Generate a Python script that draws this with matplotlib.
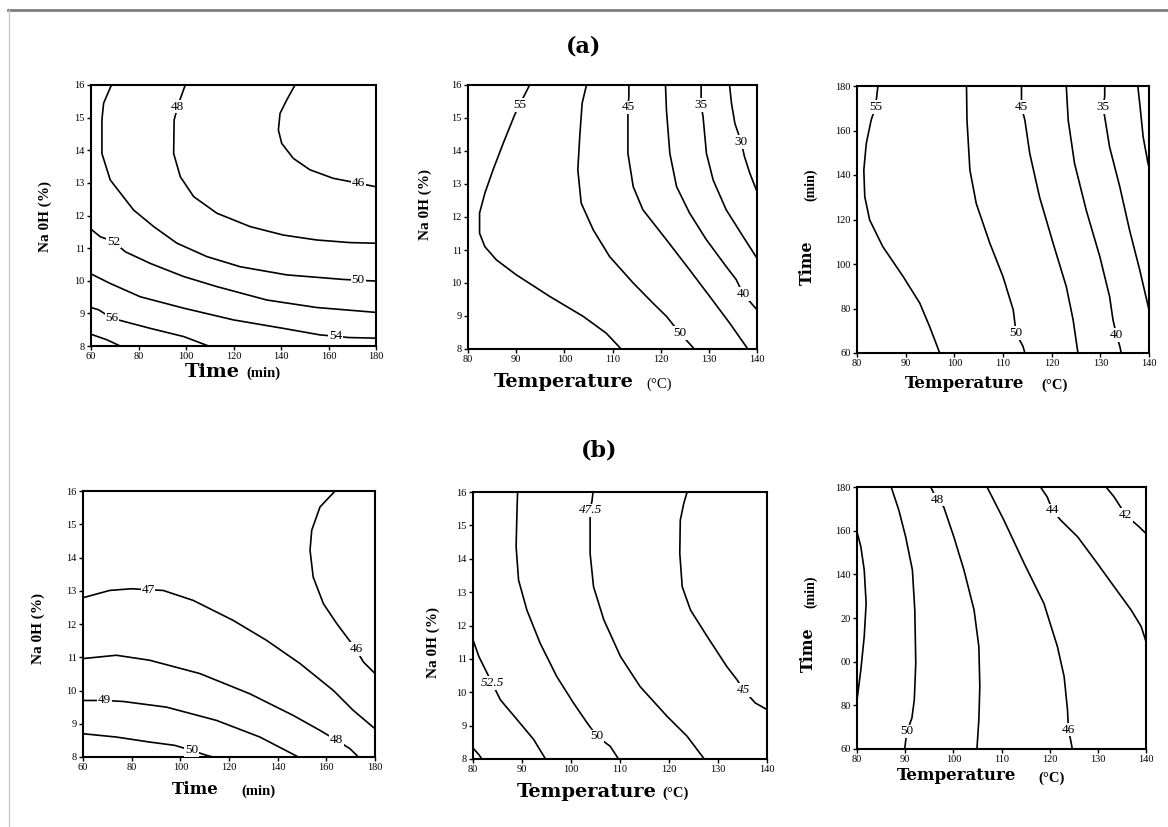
import matplotlib
matplotlib.use("Agg")
import matplotlib.pyplot as plt
from matplotlib.lines import Line2D

# ---------------- data: contour lines ----------------
# Panel (a)-1 : Time (x) vs NaOH (y)
a1_levels = ["50", "48", "46", "52", "54", "56", ""]
a1_x = [[68.6, 65.3, 64.6, 64.6, 68.1, 77.9, 86.4, 96.2, 108.8, 122.8, 142.4, 166.3, 180],
        [99.7, 96.9, 95.0, 94.8, 97.6, 103.2, 113, 127, 141, 155, 169, 180],
        [145.9, 142.4, 139.6, 138.9, 140.3, 145.2, 152.2, 162, 172.6, 180],
        [60, 63.9, 69.5, 74.4, 85, 99, 113, 134, 155, 180],
        [60, 68, 80.7, 99, 120, 141, 156.5, 162.8, 168.4, 180],
        [60, 63.2, 68.8, 75.1, 85, 99, 109.5],
        [60, 66.7, 72.3]]
a1_y = [[16, 15.44, 14.93, 13.9, 13.09, 12.17, 11.66, 11.15, 10.74, 10.43, 10.18, 10.04, 9.99],
        [16, 15.44, 14.93, 13.9, 13.19, 12.58, 12.07, 11.66, 11.4, 11.25, 11.17, 11.15],
        [16, 15.54, 15.13, 14.62, 14.21, 13.75, 13.4, 13.14, 12.99, 12.88],
        [11.58, 11.35, 11.2, 10.89, 10.53, 10.13, 9.82, 9.41, 9.18, 9.03],
        [10.21, 9.92, 9.51, 9.16, 8.8, 8.54, 8.34, 8.3, 8.26, 8.24],
        [9.18, 9.11, 8.85, 8.73, 8.54, 8.29, 8.0],
        [8.36, 8.19, 8.0]]
a1_lab_x = [172.5, 96.2, 172.6, 69.5, 163.0, 68.8, None]
a1_lab_y = [10.03, 15.34, 13.0, 11.2, 8.3, 8.85, None]

# Panel (a)-2 : Temperature (x) vs NaOH (y)
a2_levels = ["55", "50", "45", "40", "35", "30"]
a2_x = [[92.8, 90.7, 89.7, 87.3, 85.2, 83.5, 82.4, 82.4, 83.5, 85.9, 90, 97, 103.9, 108.7, 111.8],
        [104.6, 103.7, 103.2, 102.8, 103.5, 106, 109.4, 114.3, 118.4, 121.2, 124, 127],
        [113.4, 113.4, 113.2, 113.2, 113.2, 114.3, 116.3, 121.2, 126, 130.2, 134.3, 138.1],
        [121, 121.2, 121.9, 123.3, 126, 129.5, 133.6, 135.7, 137.1, 140],
        [128.4, 128.4, 128.4, 128.8, 129.5, 130.9, 133.6, 137.1, 140],
        [134.3, 134.7, 135.4, 136.7, 137.4, 138.5, 140]]
a2_y = [[16, 15.4, 15.1, 14.23, 13.43, 12.72, 12.12, 11.51, 11.1, 10.7, 10.25, 9.59, 8.99, 8.48, 8.0],
        [16, 15.45, 14.44, 13.43, 12.42, 11.61, 10.8, 10.0, 9.39, 8.99, 8.48, 8.0],
        [16, 15.65, 15.32, 15.04, 13.93, 12.92, 12.22, 11.31, 10.4, 9.59, 8.79, 8.0],
        [16, 15.24, 13.93, 12.92, 12.12, 11.31, 10.5, 10.1, 9.67, 9.19],
        [16, 15.7, 15.4, 15.04, 13.93, 13.12, 12.22, 11.41, 10.75],
        [16, 15.45, 14.84, 14.28, 13.83, 13.33, 12.77]]
a2_lab_x = [90.7, 124.0, 113.2, 137.1, 128.4, 136.7]
a2_lab_y = [15.4, 8.48, 15.32, 9.67, 15.4, 14.28]

# Panel (a)-3 : Temperature (x) vs Time (y)
a3_levels = ["55", "50", "45", "40", "35", ""]
a3_x = [[84.3, 83.8, 82.9, 81.9, 81.4, 81.6, 82.6, 85.3, 89.5, 92.9, 94.9, 97],
        [102.5, 102.6, 103.2, 104.5, 107.3, 110, 112.1, 112.7, 114.1, 114.5],
        [113.8, 113.8, 113.8, 114.5, 115.5, 117.5, 120.3, 123, 124.4, 125.4],
        [123, 123.4, 124.7, 127.1, 129.9, 131.9, 132.6, 133.3, 134, 134.3],
        [130.9, 130.9, 130.5, 130.9, 131.9, 134, 136, 138.1, 140],
        [137.7, 138.1, 138.8, 139.8, 140]]
a3_y = [[180, 170.6, 164.6, 154.1, 142.2, 130.2, 119.8, 107.8, 94.3, 82.4, 72, 60],
        [180, 164.6, 142.2, 127.2, 109.3, 94.3, 79.4, 68.9, 63, 60],
        [180, 175.1, 170.6, 164.6, 149.7, 130.2, 109.3, 89.9, 75, 60],
        [180, 164.6, 145.2, 124.2, 103.3, 85.4, 74.9, 68.2, 63, 60],
        [180, 175.1, 170.6, 166.1, 152.6, 134.7, 115.3, 97.3, 79.4],
        [180, 172.1, 157.1, 145.2, 143.7]]
a3_lab_x = [83.8, 112.7, 113.8, 133.3, 130.5, None]
a3_lab_y = [170.6, 68.9, 170.6, 68.2, 170.6, None]

# Panel (b)-1 : Time (x) vs NaOH (y)
b1_levels = ["46", "47", "48", "49", "50"]
b1_x = [[163.6, 157.4, 154, 153.3, 154.6, 158.8, 164.3, 168.4, 172.2, 175.2, 180],
        [60, 71, 79.9, 86.7, 92.9, 105.3, 121.7, 135.4, 149.2, 162.9, 171.1, 180],
        [60, 73.7, 87.4, 108, 128.6, 146.4, 157.4, 164.3, 169.7, 173.2],
        [60, 68.9, 76.5, 94.3, 114.9, 132.7, 148.5],
        [60, 73.7, 87.4, 97.7, 104.6, 110.8, 113.5]]
b1_y = [[16, 15.52, 14.82, 14.22, 13.41, 12.61, 12.01, 11.61, 11.24, 10.86, 10.51],
        [12.79, 13.01, 13.06, 13.03, 13.01, 12.71, 12.11, 11.51, 10.81, 10.0, 9.4, 8.85],
        [10.96, 11.06, 10.91, 10.51, 9.9, 9.25, 8.8, 8.5, 8.25, 8.0],
        [9.7, 9.7, 9.67, 9.5, 9.1, 8.6, 8.0],
        [8.7, 8.6, 8.45, 8.35, 8.2, 8.05, 8.0]]
b1_lab_x = [172.2, 86.7, 164.3, 68.9, 104.6]
b1_lab_y = [11.24, 13.03, 8.5, 9.7, 8.2]

# Panel (b)-2 : Temperature (x) vs NaOH (y)
b2_levels = ["", "52.5", "50", "47.5", "45"]
b2_x = [[80, 81.2, 81.8],
        [80, 81.2, 83.9, 85.6, 89, 92.4, 94.8],
        [89.1, 89, 88.8, 89.3, 91, 93.7, 97.1, 100.5, 103.3, 105.3, 108, 109.7],
        [104.5, 104.3, 103.9, 103.9, 103.9, 104.6, 106.7, 110.1, 114.1, 119.6, 123.7, 127.2],
        [123.7, 123, 122.3, 122.2, 122.7, 124.4, 127.8, 131.8, 133.9, 135.2, 137.6, 140]]
b2_y = [[8.33, 8.13, 8.0],
        [11.57, 11.07, 10.27, 9.77, 9.18, 8.58, 8.0],
        [16, 15.55, 14.36, 13.36, 12.46, 11.47, 10.47, 9.68, 9.08, 8.68, 8.38, 8.0],
        [16, 15.75, 15.45, 15.1, 14.16, 13.16, 12.17, 11.07, 10.17, 9.28, 8.68, 8.0],
        [16, 15.65, 15.15, 14.16, 13.16, 12.46, 11.67, 10.77, 10.37, 10.07, 9.68, 9.48]]
b2_lab_x = [None, 83.9, 105.3, 103.9, 135.2]
b2_lab_y = [None, 10.27, 8.68, 15.45, 10.07]

# Panel (b)-3 : Temperature (x) vs Time (y)
b3_levels = ["", "50", "48", "46", "44", "42"]
b3_x = [[80, 80.8, 81.5, 81.9, 81.5, 80.8, 80.1, 80],
        [87.1, 88.7, 90.1, 91.5, 92, 92.2, 91.9, 91.4, 90.4, 90.1, 89.9],
        [95.3, 96.6, 98, 100.1, 102.2, 104.3, 105.3, 105.5, 105.3, 104.9],
        [107, 110.5, 114.7, 118.8, 121.6, 123, 123.7, 123.9, 124.4, 124.7],
        [118.1, 119.5, 120.6, 122.3, 125.8, 129.9, 133.4, 136.9, 139, 140],
        [131.7, 133.4, 135.8, 138.6, 140]]
b3_y = [[159.5, 152.6, 142, 126.7, 111.5, 96.3, 84.1, 82.6],
        [180, 169.3, 157.2, 142, 123.7, 99.3, 82.6, 74.2, 68.1, 63.6, 60],
        [180, 174.2, 170.9, 157.2, 142, 123.7, 106.9, 88.7, 73.5, 60],
        [180, 164.8, 145, 126.7, 107, 93.2, 78, 68.9, 63.6, 60],
        [180, 175.4, 169.3, 164.8, 157.2, 145, 134.3, 123.7, 116.1, 109.2],
        [180, 175.4, 167.1, 161.7, 158.7]]
b3_lab_x = [None, 90.4, 96.6, 123.9, 120.6, 135.8]
b3_lab_y = [None, 68.1, 174.2, 68.9, 169.3, 167.1]

# axis ticks
naoh_ticks = [8, 9, 10, 11, 12, 13, 14, 15, 16]
time_ticks = [60, 80, 100, 120, 140, 160, 180]
temp_ticks = [80, 90, 100, 110, 120, 130, 140]
b3_time_ticklabels = ["60", "80", "00", "20", "140", "160", "180"]

# ---------------- figure ----------------
W, H = 1168, 827
SERIF = ["Liberation Serif", "DejaVu Serif"]
WIDE = ["DejaVu Serif", "Liberation Serif"]
plt.rcParams["font.family"] = SERIF
fig = plt.figure(figsize=(W / 100, H / 100), dpi=100)
fig.patch.set_facecolor("white")

# frame lines of the original image
fig.add_artist(Line2D([8 / W, 1], [1 - 10 / H, 1 - 10 / H], transform=fig.transFigure,
                      color="#7f7f7f", lw=2.0))
fig.add_artist(Line2D([8.5 / W, 8.5 / W], [0, 1 - 10 / H], transform=fig.transFigure,
                      color="#c8c8c8", lw=1.0))


def ftxt(x, y, s, **kw):
    fig.text(x / W, 1 - y / H, s, ha="center", va="center", **kw)


def panel(box, xlim, ylim, xticks, yticks, xs, ys, levels, lx, ly,
          yticklabels=None, italic=()):
    l, t, r, b = box
    ax = fig.add_axes([l / W, 1 - b / H, (r - l) / W, (b - t) / H])
    for X, Y in zip(xs, ys):
        ax.plot(X, Y, color="black", lw=1.2, solid_capstyle="butt", clip_on=True)
    for s, x, y in zip(levels, lx, ly):
        if s and x is not None:
            ax.text(x, y, s, ha="center", va="center", fontsize=9.5,
                    style="italic" if s in italic else "normal",
                    bbox=dict(facecolor="white", edgecolor="none", pad=0.6), zorder=5)
    ax.set_xlim(*xlim)
    ax.set_ylim(*ylim)
    ax.set_xticks(xticks)
    ax.set_yticks(yticks)
    if yticklabels is not None:
        ax.set_yticklabels(yticklabels)
    ax.tick_params(direction="out", length=3, width=1, labelsize=7.5, pad=1.5)
    for sp in ax.spines.values():
        sp.set_linewidth(1.5)
    return ax


panel((91, 85, 376, 346), (60, 180), (8, 16), time_ticks, naoh_ticks,
      a1_x, a1_y, a1_levels, a1_lab_x, a1_lab_y)
panel((468, 85, 757, 349), (80, 140), (8, 16), temp_ticks, naoh_ticks,
      a2_x, a2_y, a2_levels, a2_lab_x, a2_lab_y)
panel((857, 86, 1149, 353), (80, 140), (60, 180), temp_ticks, time_ticks,
      a3_x, a3_y, a3_levels, a3_lab_x, a3_lab_y)
panel((83, 491, 375, 757), (60, 180), (8, 16), time_ticks, naoh_ticks,
      b1_x, b1_y, b1_levels, b1_lab_x, b1_lab_y)
panel((473, 492, 767, 759), (80, 140), (8, 16), temp_ticks, naoh_ticks,
      b2_x, b2_y, b2_levels, b2_lab_x, b2_lab_y, italic=("52.5", "47.5", "45"))
panel((857, 487, 1146, 749), (80, 140), (60, 180), temp_ticks, time_ticks,
      b3_x, b3_y, b3_levels, b3_lab_x, b3_lab_y, yticklabels=b3_time_ticklabels)

# titles
ftxt(584, 46, "(a)", fontsize=16, fontweight="bold", family=WIDE)
ftxt(599, 451, "(b)", fontsize=16, fontweight="bold", family=WIDE)

# y labels
for x, y in [(45, 216), (425, 205), (38, 628), (433, 643)]:
    ftxt(x, y, "Na 0H (%)", fontsize=11, fontweight="bold", rotation=90)
ftxt(807, 263, "Time", fontsize=11.5, fontweight="bold", rotation=90, family=WIDE)
ftxt(811, 185, "(min)", fontsize=10, fontweight="bold", rotation=90)
ftxt(808, 650, "Time", fontsize=11.5, fontweight="bold", rotation=90, family=WIDE)
ftxt(811, 592, "(min)", fontsize=10, fontweight="bold", rotation=90)

# x labels
ftxt(212, 372, "Time", fontsize=14, fontweight="bold", family=WIDE)
ftxt(263, 373, "(min)", fontsize=10.5, fontweight="bold")
ftxt(195, 790, "Time", fontsize=12, fontweight="bold", family=WIDE)
ftxt(258, 791, "(min)", fontsize=10.5, fontweight="bold")
ftxt(564, 382, "Temperature", fontsize=14, fontweight="bold", family=WIDE)
ftxt(659, 384, "(°C)", fontsize=10.5)
ftxt(965, 383, "Temperature", fontsize=12, fontweight="bold", family=WIDE)
ftxt(1055, 385, "(°C)", fontsize=10.5, fontweight="bold")
ftxt(587, 792, "Temperature", fontsize=14, fontweight="bold", family=WIDE)
ftxt(676, 793, "(°C)", fontsize=10.5, fontweight="bold")
ftxt(957, 775, "Temperature", fontsize=12, fontweight="bold", family=WIDE)
ftxt(1052, 778, "(°C)", fontsize=10.5, fontweight="bold")

fig.savefig("out.png", dpi=100, facecolor="white")
